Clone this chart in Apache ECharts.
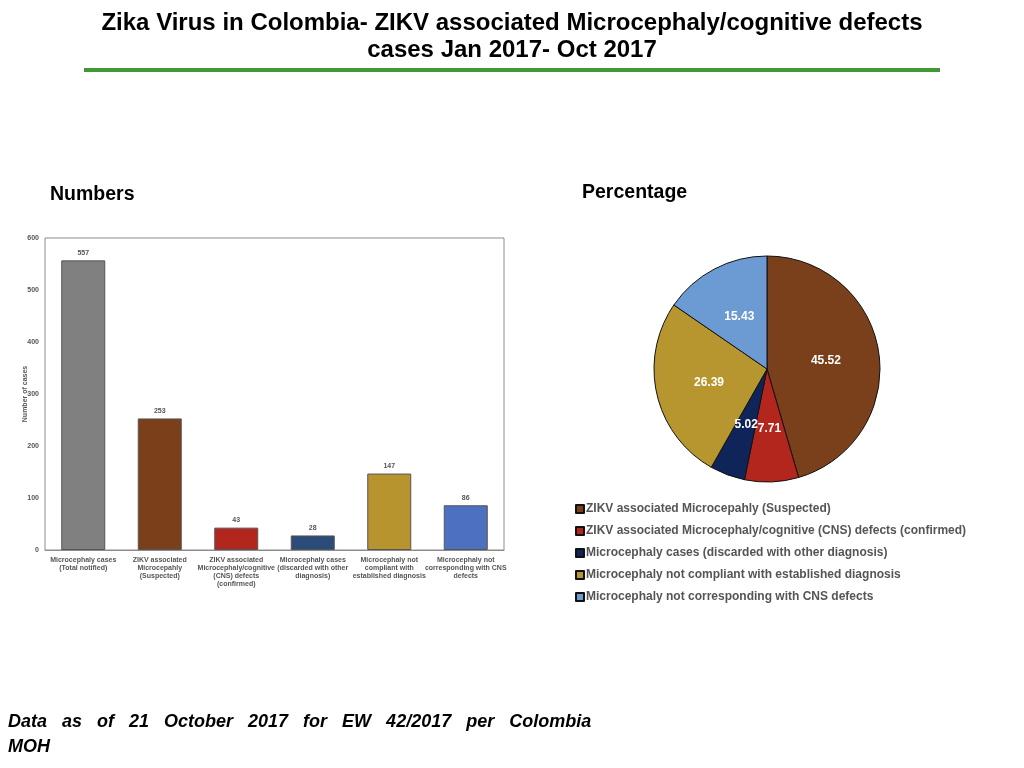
<!DOCTYPE html>
<html><head><meta charset="utf-8">
<script src="https://cdn.jsdelivr.net/npm/echarts@6/dist/echarts.min.js"></script>
<style>html,body{margin:0;padding:0;background:#fff}#c{width:1024px;height:768px}</style>
</head><body><div id="c"></div>
<script>
const barCategories = [
  "Microcephaly cases\n(Total notified)",
  "ZIKV associated\nMicrocepahly\n(Suspected)",
  "ZIKV associated\nMicrocephaly/cognitive\n(CNS) defects\n(confirmed)",
  "Microcephaly cases\n(discarded with other\ndiagnosis)",
  "Microcephaly not\ncompliant with\nestablished diagnosis",
  "Microcephaly not\ncorresponding with CNS\ndefects"
];
const barValues = [557, 253, 43, 28, 147, 86];
const barColors = ["#808080", "#7b3f1a", "#b3261d", "#2b4c78", "#b8942f", "#4e70c0"];

const pieNames = [
  "ZIKV associated Microcepahly (Suspected)",
  "ZIKV associated Microcephaly/cognitive (CNS) defects (confirmed)",
  "Microcephaly cases (discarded with other diagnosis)",
  "Microcephaly not compliant with established diagnosis",
  "Microcephaly not corresponding with CNS defects"
];
const pieValues = [45.52, 7.71, 5.02, 26.39, 15.43];
const pieColors = ["#7a3f1b", "#b3261d", "#0f2459", "#b8962f", "#6b9bd2"];

const yTicks = [0, 100, 200, 300, 400, 500, 600];

const chart = echarts.init(document.getElementById('c'));
const FF = '"Liberation Sans", Arial, sans-serif';
chart.setOption({
  animation: false,
  textStyle: { fontFamily: FF },
  title: [{
    text: "Numbers", left: 50, top: 185, padding: 0,
    textStyle: { fontSize: 19.5, fontWeight: 'bold', color: '#000', fontFamily: FF }
  }, {
    text: "Percentage", left: 582, top: 183, padding: 0,
    textStyle: { fontSize: 19.5, fontWeight: 'bold', color: '#000', fontFamily: FF }
  }],
  graphic: [{
    type: 'text', x: 512, y: 10,
    style: {
      text: "Zika Virus in Colombia- ZIKV associated Microcephaly/cognitive defects\ncases Jan 2017- Oct 2017",
      font: 'bold 24px ' + FF, fill: '#000', lineHeight: 27, textAlign: 'center'
    }
  }, {
    type: 'line', shape: { x1: 84, y1: 70, x2: 940, y2: 70 },
    style: { stroke: '#3f9a35', lineWidth: 4 }
  }, {
    type: 'text', x: 8, y: 710,
    style: {
      text: "Data   as   of   21   October   2017   for   EW   42/2017   per   Colombia\nMOH",
      font: 'italic bold 18px ' + FF, fill: '#000', lineHeight: 25
    }
  }],
  grid: { left: 45, top: 238, width: 459, height: 312, show: true, borderColor: '#8c8c8c', borderWidth: 1, backgroundColor: '#fff' },
  xAxis: {
    type: 'category', data: barCategories,
    axisLine: { lineStyle: { color: '#8c8c8c' } },
    axisTick: { show: false },
    axisLabel: { interval: 0, fontSize: 7, fontWeight: 'bold', color: '#555', lineHeight: 8, margin: 6 }
  },
  yAxis: {
    type: 'value', min: 0, max: 600, interval: 100,
    name: 'Number of cases', nameLocation: 'middle', nameGap: 16, nameMoveOverlap: false,
    nameTextStyle: { fontSize: 7, fontWeight: 'bold', color: '#555' },
    axisLine: { show: false }, axisTick: { show: false }, splitLine: { show: false },
    axisLabel: { fontSize: 7, fontWeight: 'bold', color: '#555', margin: 6,
      formatter: v => yTicks.includes(v) ? String(v) : '' }
  },
  legend: {
    orient: 'vertical', left: 570, top: 498,
    itemWidth: 8, itemHeight: 8, itemGap: 10, icon: 'rect',
    data: pieNames,
    textStyle: { fontSize: 12, fontWeight: 'bold', color: '#555', padding: [0, 0, 0, -3] }
  },
  series: [{
    type: 'bar', data: barValues.map((v, i) => ({ value: v, itemStyle: { color: barColors[i] } })),
    barWidth: 44,
    itemStyle: { borderColor: '#555', borderWidth: 1 },
    label: { show: true, position: 'top', distance: 4, fontSize: 7, fontWeight: 'bold', color: '#555' }
  }, {
    type: 'pie', center: [767, 369], radius: 113, startAngle: 90, clockwise: true,
    data: pieNames.map((n, i) => ({ name: n, value: pieValues[i], itemStyle: { color: pieColors[i] } })),
    itemStyle: { borderColor: '#111', borderWidth: 1 },
    label: { show: true, position: 'inside', formatter: p => p.value.toFixed(2), fontSize: 12, fontWeight: 'bold', color: '#fff' },
    labelLine: { show: false },
    emphasis: { disabled: true }
  }]
});
</script>
</body></html>
